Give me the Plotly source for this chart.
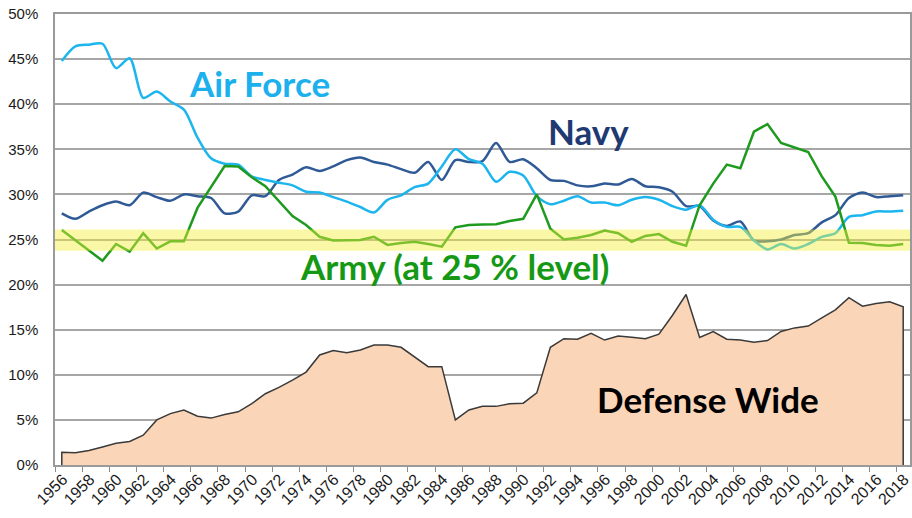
import plotly.graph_objects as go

years = list(range(1956, 2019))

air_force = [
    44.8, 46.4, 46.6, 46.7, 44.0, 45.1, 40.7, 41.4, 40.3, 39.4,
    36.3, 34.0, 33.4, 33.3, 32.0, 31.6, 31.3, 31.0, 30.3, 30.2,
    29.7, 29.2, 28.6, 28.0, 29.4, 29.9, 30.8, 31.2, 33.1, 35.0,
    33.9, 33.4, 31.4, 32.5, 32.1, 29.8, 28.9, 29.3, 29.8, 29.1,
    29.1, 28.8, 29.4, 29.7, 29.4, 28.7, 28.3, 28.8, 27.2, 26.4,
    26.4, 24.9, 23.9, 24.5, 24.0, 24.5, 25.3, 25.7, 27.5, 27.7,
    28.1, 28.1, 28.2,
]

navy = [
    27.9, 27.3, 28.1, 28.8, 29.2, 28.8, 30.2, 29.7, 29.3, 30.0,
    29.8, 29.6, 27.9, 28.1, 29.9, 29.8, 31.6, 32.2, 33.0, 32.6,
    33.1, 33.8, 34.1, 33.6, 33.3, 32.8, 32.4, 33.6, 31.6, 33.8,
    33.6, 33.7, 35.7, 33.6, 33.9, 32.9, 31.6, 31.5, 31.0, 30.9,
    31.2, 31.1, 31.7, 30.9, 30.8, 30.3, 28.7, 28.7, 27.1, 26.5,
    27.0, 24.9, 24.8, 25.0, 25.5, 25.7, 26.9, 27.7, 29.6, 30.2,
    29.7, 29.8, 29.9,
]

army = [
    26.05, 24.9, 23.8, 22.65, 24.5, 23.65, 25.7, 24.0, 24.8, 24.8,
    28.5, 30.8, 33.15, 33.1, 31.9, 30.9, 29.3, 27.6, 26.6, 25.3,
    24.9, 24.95, 24.95, 25.3, 24.4, 24.6, 24.75, 24.5, 24.2, 26.35,
    26.6, 26.65, 26.7, 27.05, 27.3, 30.0, 26.2, 25.0, 25.2, 25.5,
    26.0, 25.7, 24.75, 25.4, 25.6, 24.75, 24.3, 28.8, 31.2, 33.3,
    32.9, 36.95, 37.8, 35.7, 35.2, 34.7, 32.0, 29.75, 24.65, 24.6,
    24.4, 24.3, 24.5,
]

defense_wide = [
    1.4, 1.35, 1.6, 2.0, 2.4, 2.6, 3.3, 5.0, 5.7, 6.1,
    5.4, 5.2, 5.6, 5.9, 6.8, 7.9, 8.6, 9.4, 10.3, 12.2,
    12.7, 12.45, 12.75, 13.3, 13.3, 13.05, 12.0, 10.9, 10.9, 5.0,
    6.1, 6.5, 6.5, 6.8, 6.85, 8.0, 13.05, 14.0, 13.95, 14.6,
    13.85, 14.3, 14.15, 14.0, 14.5, 16.6, 18.9, 14.15, 14.8, 13.95,
    13.85, 13.6, 13.8, 14.8, 15.2, 15.4, 16.3, 17.2, 18.55, 17.6,
    17.9, 18.1, 17.55,
]

cats = [str(y) for y in years]

fig = go.Figure()

# Defense Wide area (closed down to zero at both ends so the outline has edges)
fig.add_trace(go.Scatter(
    x=[cats[0]] + cats + [cats[-1]],
    y=[0] + defense_wide + [0],
    mode='lines',
    fill='tozeroy',
    fillcolor='#FBD5B7',
    line=dict(color='#3a3a3a', width=1.5),
    hoverinfo='skip',
))

fig.add_trace(go.Scatter(
    x=cats, y=navy, mode='lines',
    line=dict(color='#2F5A96', width=2.5, shape='spline', smoothing=0.8),
    name='Navy',
))
fig.add_trace(go.Scatter(
    x=cats, y=air_force, mode='lines',
    line=dict(color='#1DB5EE', width=2.5, shape='spline', smoothing=0.8),
    name='Air Force',
))
fig.add_trace(go.Scatter(
    x=cats, y=army, mode='lines',
    line=dict(color='#1E9A1E', width=2.5),
    name='Army',
))

# yellow highlight band around 25 %
fig.add_shape(
    type='rect', xref='paper', x0=0, x1=1, yref='y', y0=23.75, y1=26.1,
    fillcolor='rgba(245,240,60,0.45)', line=dict(width=0), layer='above',
)

label_font = dict(family='Lato', size=35, weight='bold')
labels = [
    ('Air Force', 0.154, 42.35, '#1CB0EC'),
    ('Navy', 0.574, 37.0, '#1F3A73'),
    ('Army (at 25 % level)', 0.2845, 22.1, '#159915'),
    ('Defense Wide', 0.632, 7.3, '#000000'),
]
for text, xp, yv, color in labels:
    fig.add_annotation(
        text=text, xref='paper', x=xp, yref='y', y=yv,
        xanchor='left', yanchor='middle', showarrow=False,
        font=dict(label_font, color=color),
    )

fig.update_layout(
    width=912, height=518,
    margin=dict(l=55, r=2, t=14, b=53),
    plot_bgcolor='white',
    paper_bgcolor='white',
    showlegend=False,
    xaxis=dict(
        type='category',
        range=[-0.5, len(cats) - 0.5],
        automargin=False,
        tickmode='linear', tick0=0, dtick=2,
        tickson='boundaries',
        ticks='outside', ticklen=5, tickcolor='#8c8c8c',
        tickangle=-45,
        ticklabelshift=1,
        ticklabelstandoff=-3,
        tickfont=dict(family='Liberation Sans', size=16, color='#1a1a1a'),
        showgrid=False,
        showline=True, linecolor='#9a9a9a', linewidth=1.5, mirror=True,
    ),
    yaxis=dict(
        range=[0, 50],
        automargin=False,
        tickmode='linear', tick0=0, dtick=5,
        ticksuffix='%',
        ticklabelstandoff=12,
        tickfont=dict(family='Liberation Sans', size=15, color='#1a1a1a'),
        showgrid=True, gridcolor='#a6a6a6', gridwidth=1.5,
        zeroline=False,
        showline=True, linecolor='#9a9a9a', linewidth=1.5, mirror=True,
        ticks='',
    ),
)

# the page's default body margin would push the chart 8px off
fig.write_html(
    "out.html",
    config={'displayModeBar': False},
    post_script="document.body.style.margin='0';",
)
